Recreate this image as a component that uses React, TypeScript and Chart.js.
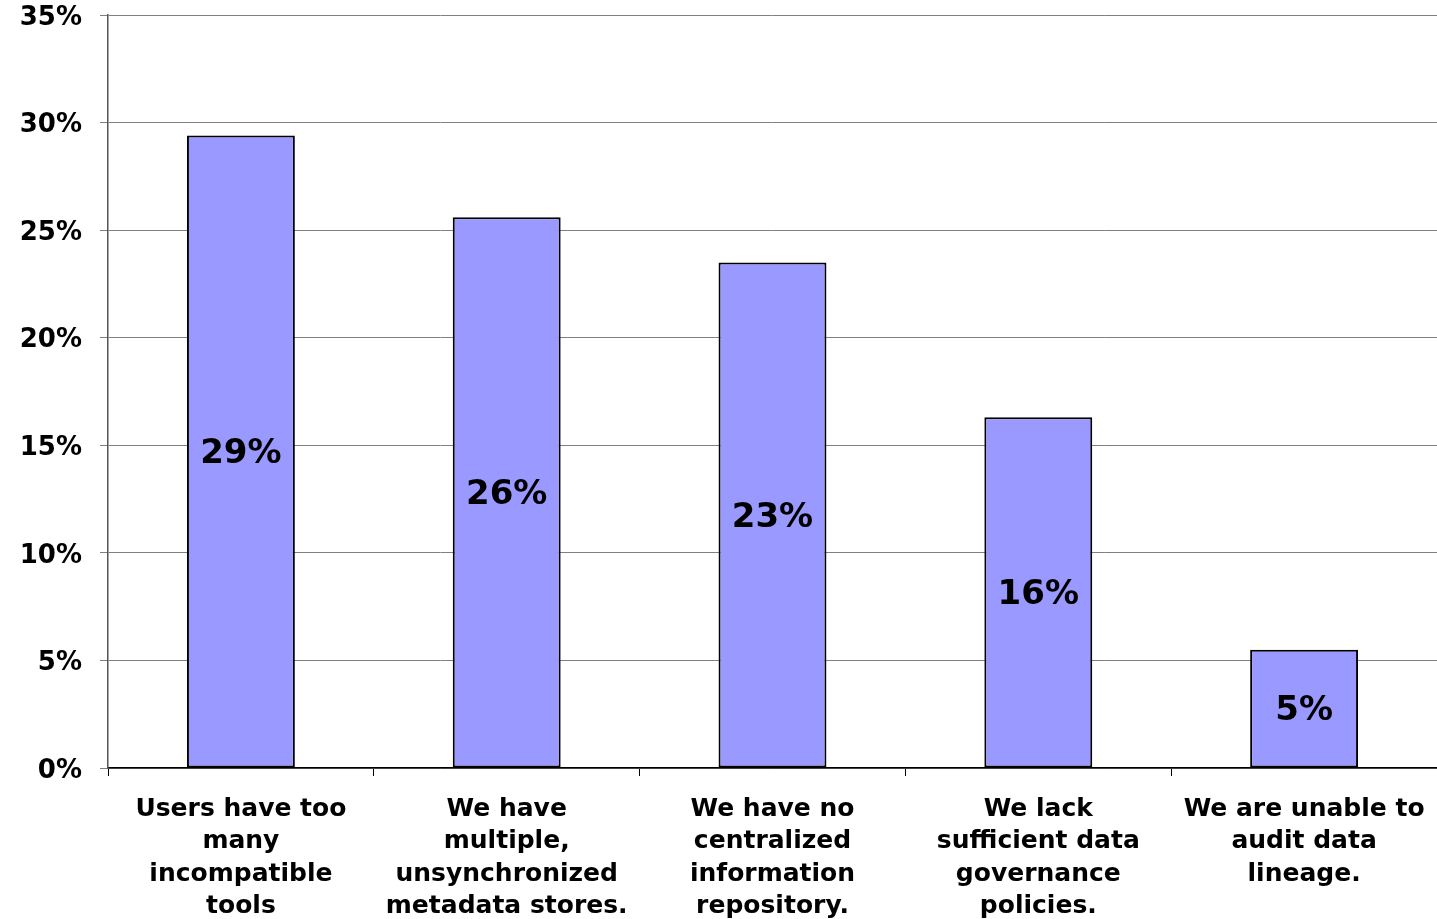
import React, { useEffect, useRef } from 'react';
import { Chart, registerables } from 'chart.js';

Chart.register(...registerables);

const categories: string[][] = [
  ['Users have too', 'many', 'incompatible', 'tools'],
  ['We have', 'multiple,', 'unsynchronized', 'metadata stores.'],
  ['We have no', 'centralized', 'information', 'repository.'],
  ['We lack', 'sufficient data', 'governance', 'policies.'],
  ['We are unable to', 'audit data', 'lineage.'],
];
const values: number[] = [29.4, 25.6, 23.5, 16.3, 5.5];
const valueLabels: string[] = ['29%', '26%', '23%', '16%', '5%'];
const yMax = 35;
const yStep = 5;

const FONT = '"DejaVu Sans", Verdana, sans-serif';

const barLabelPlugin = {
  id: 'barLabels',
  afterDatasetsDraw(chart: any) {
    const ctx = chart.ctx;
    const meta = chart.getDatasetMeta(0);
    ctx.save();
    ctx.font = `bold 34px ${FONT}`;
    ctx.fillStyle = '#000';
    ctx.textAlign = 'center';
    ctx.textBaseline = 'middle';
    meta.data.forEach((bar: any, i: number) => {
      const { x, y, base } = bar.getProps(['x', 'y', 'base'], true);
      ctx.fillText(valueLabels[i], x, (y + base) / 2 + 3);
    });
    ctx.restore();
  },
};

export default function App() {
  const ref = useRef<HTMLCanvasElement>(null);
  useEffect(() => {
    document.body.style.margin = '0';
    if (!ref.current) return;
    const chart = new Chart(ref.current, {
      type: 'bar',
      data: {
        labels: categories,
        datasets: [
          {
            data: values,
            backgroundColor: '#9999FF',
            borderColor: '#000000',
            borderWidth: 2,
            borderSkipped: false,
            barPercentage: 0.406,
            categoryPercentage: 1,
          },
        ],
      },
      options: {
        responsive: false,
        animation: false,
        layout: { padding: { top: 15, right: 0, left: 0, bottom: 0 } },
        plugins: {
          legend: { display: false },
          tooltip: { enabled: false },
        },
        scales: {
          x: {
            offset: true,
            grid: {
              display: true,
              drawOnChartArea: false,
              offset: true,
              color: '#000',
              tickLength: 8,
            },
            border: { color: '#000', width: 1.5 },
            ticks: {
              color: '#000',
              font: { family: FONT, size: 25, weight: 'bold', lineHeight: 1.3 },
              padding: 17,
              maxRotation: 0,
              autoSkip: false,
            },
            afterFit: (axis: any) => {
              axis.height = 151;
              axis.paddingLeft = 0;
              axis.paddingRight = 0;
            },
          },
          y: {
            min: 0,
            max: yMax,
            ticks: {
              stepSize: yStep,
              color: '#000',
              font: { family: FONT, size: 26, weight: 'bold' },
              padding: 18,
              labelOffset: 3,
              callback: (v: any) => `${v}%`,
            },
            grid: { color: '#808080', tickLength: 8, lineWidth: 1 },
            border: { color: '#555', width: 1.5 },
            afterFit: (axis: any) => {
              axis.width = 108;
              axis.paddingTop = 0;
              axis.paddingBottom = 0;
            },
          },
        },
      },
      plugins: [barLabelPlugin],
    });
    return () => chart.destroy();
  }, []);
  return (
    <div style={{ position: 'absolute', left: 0, top: 0, width: 1437, height: 919, background: '#fff' }}>
      <canvas ref={ref} width={1437} height={919} style={{ display: 'block' }} />
    </div>
  );
}
